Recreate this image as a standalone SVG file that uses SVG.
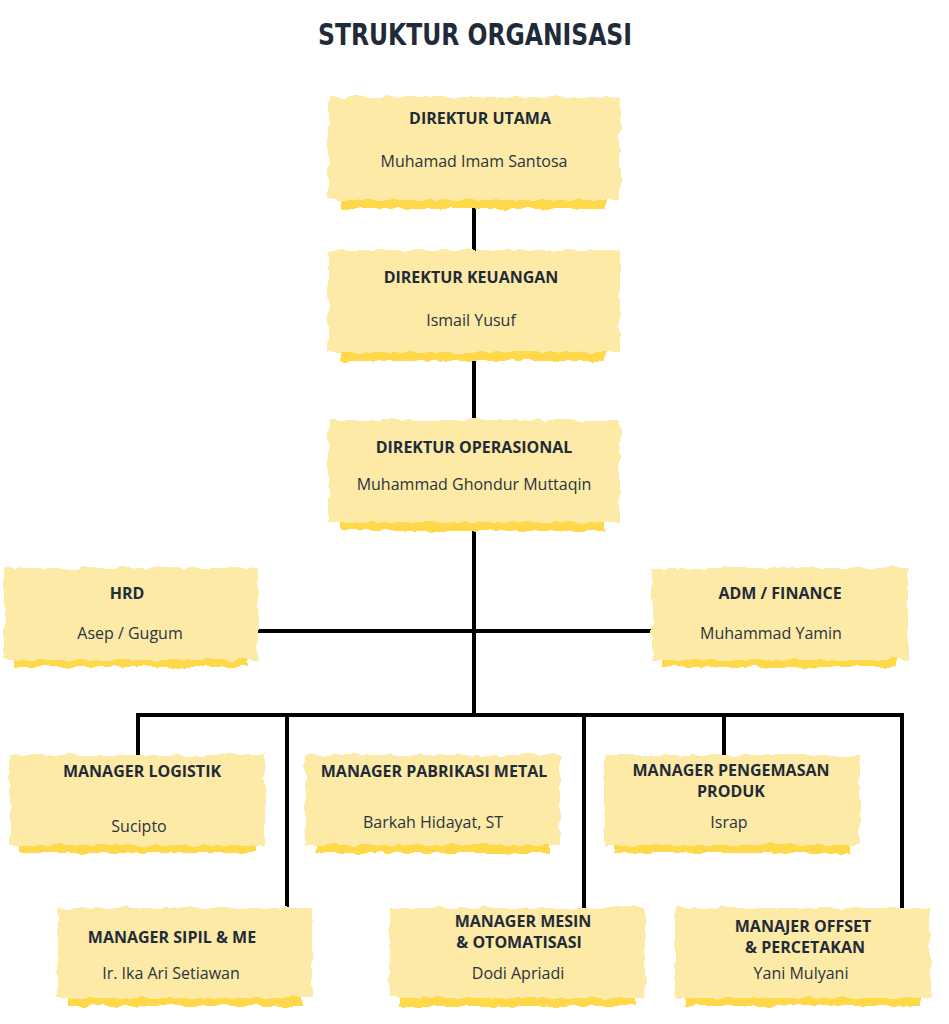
<svg xmlns="http://www.w3.org/2000/svg" width="949" height="1024" viewBox="0 0 949 1024">
<defs>
<filter id="torn" x="-5%" y="-10%" width="110%" height="120%">
<feTurbulence type="fractalNoise" baseFrequency="0.08" numOctaves="2" seed="3"/>
<feDisplacementMap in="SourceGraphic" scale="7" xChannelSelector="R" yChannelSelector="G"/>
</filter>
</defs>
<style>
.box{fill:#FDEAA6;filter:url(#torn)}
.strip{fill:#FFD94A;filter:url(#torn)}
.t{font-family:"Open Sans","Liberation Sans",sans-serif;font-weight:bold;font-size:16px;fill:#1F2B38;text-anchor:middle}
.n{font-family:"Open Sans","Liberation Sans",sans-serif;font-size:16px;fill:#2A3440;text-anchor:middle}
.c{stroke:#000;stroke-width:4;fill:none}
</style>
<rect width="949" height="1024" fill="#fff"/>
<text x="475" y="45" font-family="DejaVu Sans" font-stretch="condensed" font-weight="bold" font-size="31" fill="#1F2B38" text-anchor="middle" textLength="314" lengthAdjust="spacingAndGlyphs">STRUKTUR ORGANISASI</text>
<g id="connectors">
<path class="c" d="M474 200V715M258 631H652M138 755V715H902V910M287 715V910M584 713V910M724 715V755"/>
</g>
<g id="n1"><rect class="strip" x="340" y="192" width="265" height="17"/><rect class="box" x="328" y="97" width="292" height="103"/><text class="t" x="480" y="124">DIREKTUR UTAMA</text><text class="n" x="474" y="167">Muhamad Imam Santosa</text></g>
<g id="n2"><rect class="strip" x="340" y="344" width="265" height="17"/><rect class="box" x="328" y="250" width="292" height="102"/><text class="t" x="471" y="283">DIREKTUR KEUANGAN</text><text class="n" x="471" y="326">Ismail Yusuf</text></g>
<g id="n3"><rect class="strip" x="340" y="514" width="265" height="17"/><rect class="box" x="328" y="420" width="292" height="102"/><text class="t" x="474" y="453">DIREKTUR OPERASIONAL</text><text class="n" x="474" y="490">Muhammad Ghondur Muttaqin</text></g>
<g id="hrd"><rect class="strip" x="14" y="652" width="234" height="15"/><rect class="box" x="4" y="568" width="254" height="92"/><text class="t" x="127" y="599">HRD</text><text class="n" x="130" y="639">Asep / Gugum</text></g>
<g id="adm"><rect class="strip" x="662" y="652" width="234" height="15"/><rect class="box" x="652" y="568" width="256" height="92"/><text class="t" x="780" y="599">ADM / FINANCE</text><text class="n" x="771" y="639">Muhammad Yamin</text></g>
<g id="log"><rect class="strip" x="20" y="838" width="235" height="15"/><rect class="box" x="10" y="755" width="255" height="90"/><text class="t" x="142" y="777">MANAGER LOGISTIK</text><text class="n" x="139" y="832">Sucipto</text></g>
<g id="pab"><rect class="strip" x="315" y="838" width="235" height="15"/><rect class="box" x="305" y="755" width="255" height="90"/><text class="t" x="434" y="777">MANAGER PABRIKASI METAL</text><text class="n" x="433" y="828">Barkah Hidayat, ST</text></g>
<g id="pen"><rect class="strip" x="614" y="838" width="236" height="15"/><rect class="box" x="604" y="755" width="256" height="90"/><text class="t" x="731" y="776">MANAGER PENGEMASAN</text><text class="t" x="731" y="797">PRODUK</text><text class="n" x="729" y="828">Israp</text></g>
<g id="sip"><rect class="strip" x="67" y="991" width="235" height="15"/><rect class="box" x="57" y="908" width="255" height="90"/><text class="t" x="172" y="943">MANAGER SIPIL &amp; ME</text><text class="n" x="171" y="979">Ir. Ika Ari Setiawan</text></g>
<g id="mes"><rect class="strip" x="400" y="991" width="235" height="15"/><rect class="box" x="390" y="908" width="255" height="90"/><text class="t" x="523" y="927">MANAGER MESIN</text><text class="t" x="519" y="948">&amp; OTOMATISASI</text><text class="n" x="518" y="979">Dodi Apriadi</text></g>
<g id="off"><rect class="strip" x="685" y="991" width="235" height="15"/><rect class="box" x="675" y="908" width="255" height="90"/><text class="t" x="803" y="932">MANAJER OFFSET</text><text class="t" x="805" y="953">&amp; PERCETAKAN</text><text class="n" x="801" y="979">Yani Mulyani</text></g>
</svg>
